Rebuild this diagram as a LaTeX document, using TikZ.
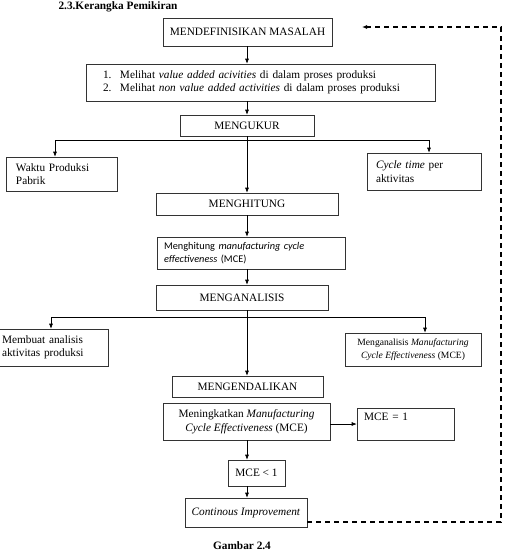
\documentclass[tikz,border=0pt]{standalone}
\usepackage{fontspec}
\setmainfont{Liberation Serif}
\newfontfamily\calibri{Carlito}
\usetikzlibrary{arrows.meta,positioning,calc}

\begin{document}
\begin{tikzpicture}[
  x=1pt, y=-1pt,
  >={Latex[length=5pt,width=4pt]},
  box/.style={draw=black!80, line width=0.6pt, inner sep=0pt, align=center, font=\fontsize{11.3}{13.5}\selectfont},
  lbox/.style={box, align=left},
  arr/.style={->, line width=0.6pt},
  back/.style={->, dashed, dash pattern=on 5pt off 4pt, line width=1.4pt},
]
\useasboundingbox (0,0) rectangle (504,552);

% Judul
\node[font=\fontsize{11.3}{13}\selectfont\bfseries, anchor=base west] (judul) at (55,9) {2.3.Kerangka Pemikiran};

% Alur utama
\node[box, minimum width=169pt, minimum height=28pt] (definisi) at (247.5,32) {MENDEFINISIKAN MASALAH};
\node[lbox, text width=315pt, inner xsep=17pt, minimum height=37pt] (lihat) at (260.5,82.5)
  {\makebox[17pt][l]{1.}Melihat \textit{value added acivities} di dalam proses produksi\\
   \makebox[17pt][l]{2.}Melihat \textit{non value added activities} di dalam proses produksi};
\node[box, minimum width=134pt, minimum height=21pt] (ukur) at (247,125.5) {MENGUKUR};
\node[lbox, text width=91pt, inner xsep=10pt, minimum height=34pt] (waktu) at (61.5,174) {Waktu Produksi\\Pabrik};
\node[lbox, text width=96pt, inner xsep=9pt, minimum height=37pt] (cycle) at (424,171.5) {\textit{Cycle time} per\\aktivitas};
\node[box, minimum width=182pt, minimum height=22pt] (hitung) at (247,204) {MENGHITUNG};
\node[lbox, text width=174pt, inner xsep=7pt, minimum height=32pt, font=\calibri\fontsize{10.3}{13}\selectfont] (mce) at (251,253)
  {Menghitung \textit{manufacturing cycle}\\\textit{effectiveness} (MCE)};
\node[box, minimum width=172pt, minimum height=25pt] (analisis) at (242,297.5) {MENGANALISIS};
\node[lbox, text width=96pt, inner xsep=10pt, minimum height=37pt] (membuat) at (50,347.5) {Membuat analisis\\aktivitas produksi};
\node[box, minimum width=136pt, minimum height=33pt, font=\fontsize{9.6}{12.5}\selectfont] (menganalisis) at (413,349.5)
  {Menganalisis \textit{Manufacturing}\\\textit{Cycle Effectiveness} (MCE)};
\node[box, minimum width=151pt, minimum height=21pt] (kendali) at (247.5,386.5) {MENGENDALIKAN};
\node[box, minimum width=167pt, minimum height=37pt] (tingkat) at (246.5,421.5)
  {Meningkatkan \textit{Manufacturing}\\\textit{Cycle Effectiveness} (MCE)};
\node[lbox, text width=83pt, inner xsep=7pt, text height=9pt, text depth=16pt, inner ysep=3.5pt] (satu) at (405.5,424) {MCE = 1};
\node[box, minimum width=57pt, minimum height=26pt] (kurang) at (256.5,473) {MCE < 1};
\node[box, minimum width=122pt, minimum height=29pt] (perbaikan) at (246,512.5) {\textit{Continous Improvement}};

% Keterangan
\node[font=\fontsize{11.3}{13}\selectfont\bfseries, anchor=base] (gambar) at (242,549) {Gambar 2.4};

% Panah utama
\coordinate (poros) at (247,0);
\foreach \a/\b in {definisi/lihat, lihat/ukur, ukur/hitung, hitung/mce, mce/analisis, analisis/kendali, tingkat/kurang, kurang/perbaikan}
  \draw[arr] (poros |- \a.south) -- (poros |- \b.north);

% Cabang
\coordinate (ki1) at (55,140);
\coordinate (ka1) at (429,140);
\draw[line width=0.6pt] (ki1) -- (ka1);
\draw[arr] (ki1) -- (ki1 |- waktu.north);
\draw[arr] (ka1) -- (ka1 |- cycle.north);

\coordinate (ki2) at (51,317);
\coordinate (ka2) at (425,317);
\draw[line width=0.6pt] (ki2) -- (ka2);
\draw[arr] (ki2) -- (ki2 |- membuat.north);
\draw[arr] (ka2) -- (ka2 |- menganalisis.north);

\draw[arr] (satu.west -| tingkat.east) -- (satu.west);

% Umpan balik
\coordinate (pojokbawah) at (501,522);
\coordinate (pojokatas) at (501,27);
\coordinate (balik) at (362,27);
\draw[back] (perbaikan.east |- pojokbawah) -- (pojokbawah) -- (pojokatas) -- (balik);

\end{tikzpicture}
\end{document}
